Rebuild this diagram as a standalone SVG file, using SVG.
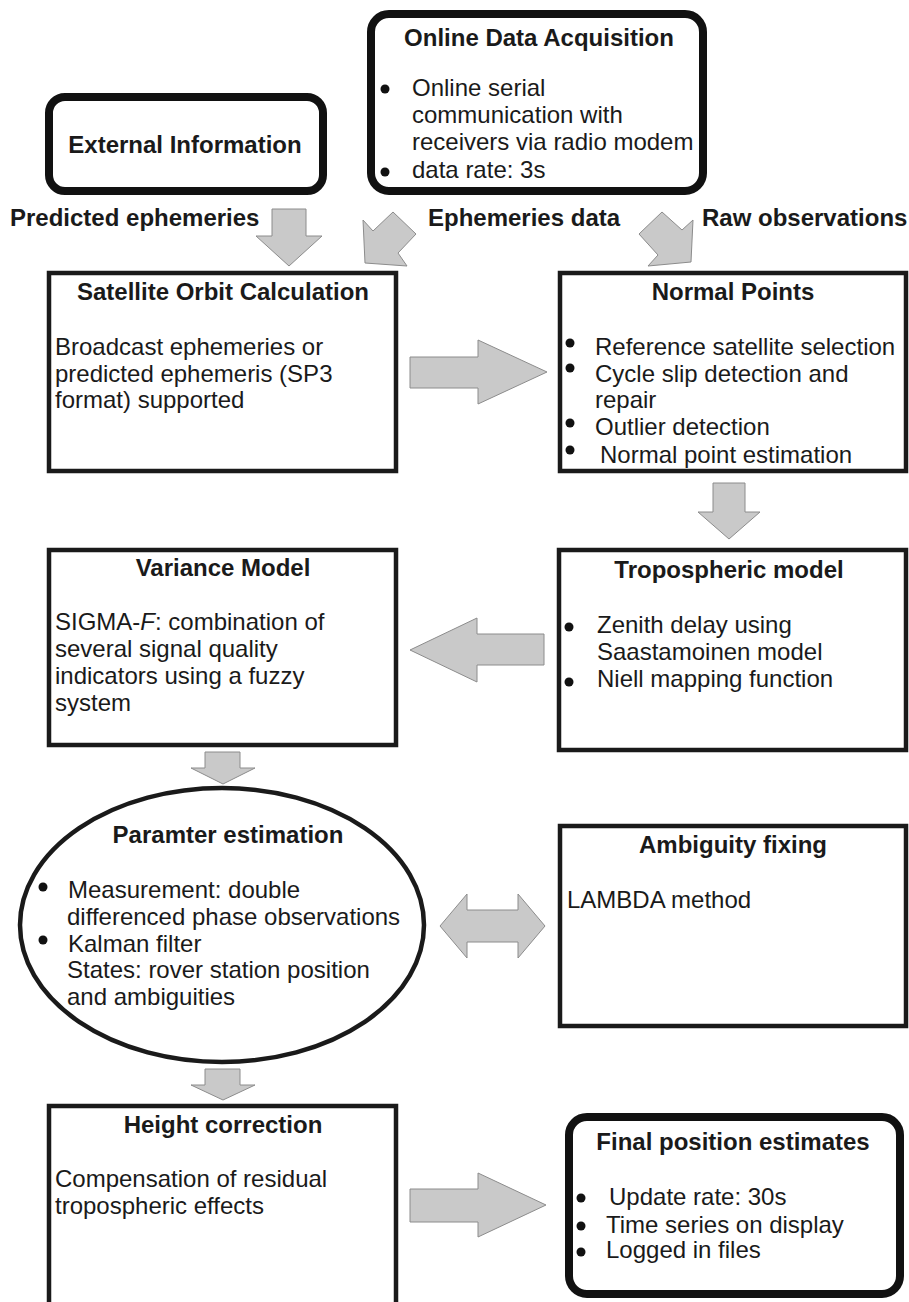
<svg xmlns="http://www.w3.org/2000/svg" width="909" height="1302" viewBox="0 0 909 1302">
<style>
text{font-family:"Liberation Sans",Arial,sans-serif;font-size:24px;fill:#1a1a1a}
.h{font-weight:bold;text-anchor:middle}
.lb{font-weight:bold}
.box{fill:#fff;stroke:#1a1a1a;stroke-width:4.5}
.rbox{fill:#fff;stroke:#111;stroke-width:8}
.arr{fill:#c9c9c9;stroke:#8c8c8c;stroke-width:1}
.dot{fill:#111}
</style>
<rect width="909" height="1302" fill="#fff"/>
<g id="connectors">
<polygon class="arr" points="272,209 306,209 306,236 322,236 289,266 256,236 272,236"/>
<polygon class="arr" points="393,212 416,234 398,253 407,266 365,263 363,220 373,231"/>
<polygon class="arr" points="662,212 682,230 693,220 691,262 648,266 658,255 639,234"/>
<polygon class="arr" points="410,357 478,357 478,340 547,372 478,404 478,388 410,388"/>
<polygon class="arr" points="713,483 745,483 745,512 760,512 729,539 698,512 713,512"/>
<polygon class="arr" points="544,634 477,634 477,618 410,650 477,682 477,665 544,665"/>
<polygon class="arr" points="205,752 240,752 240,768 255,768 223,784 191,768 205,768"/>
<polygon class="arr" points="440,926 467,894 467,910 518,910 518,894 545,926 518,958 518,942 467,942 467,958"/>
<polygon class="arr" points="205,1069 240,1069 240,1085 255,1085 223,1100 191,1085 205,1085"/>
<polygon class="arr" points="410,1189 478,1189 478,1173 546,1205 478,1237 478,1222 410,1222"/>
</g>
<g id="labels">
<text class="lb" x="10" y="226">Predicted ephemeries</text>
<text class="lb" x="428" y="226">Ephemeries data</text>
<text class="lb" x="702" y="226">Raw observations</text>
</g>
<g id="external">
<rect class="rbox" x="49" y="97" width="274" height="94" rx="16"/>
<text class="h" x="185" y="153">External Information</text>
</g>
<g id="online">
<rect class="rbox" x="371" y="14" width="332" height="177" rx="18"/>
<text class="h" x="539" y="46">Online Data Acquisition</text>
<circle class="dot" cx="385" cy="89" r="4.5"/>
<circle class="dot" cx="385" cy="172" r="4.5"/>
<text x="412" y="96">Online serial</text>
<text x="412" y="123">communication with</text>
<text x="412" y="150">receivers via radio modem</text>
<text x="412" y="178">data rate: 3s</text>
</g>
<g id="orbit">
<rect class="box" x="49" y="273" width="347" height="198"/>
<text class="h" x="223" y="300">Satellite Orbit Calculation</text>
<text x="55" y="355">Broadcast ephemeries or</text>
<text x="55" y="382">predicted ephemeris (SP3</text>
<text x="55" y="408">format) supported</text>
</g>
<g id="normal">
<rect class="box" x="560" y="273" width="346" height="198"/>
<text class="h" x="733" y="300">Normal Points</text>
<circle class="dot" cx="570" cy="343" r="4.5"/>
<circle class="dot" cx="570" cy="368" r="4.5"/>
<circle class="dot" cx="570" cy="423" r="4.5"/>
<circle class="dot" cx="570" cy="450" r="4.5"/>
<text x="595" y="355">Reference satellite selection</text>
<text x="595" y="382">Cycle slip detection and</text>
<text x="595" y="408">repair</text>
<text x="595" y="435">Outlier detection</text>
<text x="600" y="463">Normal point estimation</text>
</g>
<g id="tropo">
<rect class="box" x="559" y="550" width="347" height="200"/>
<text class="h" x="729" y="578">Tropospheric model</text>
<circle class="dot" cx="569" cy="627" r="4.5"/>
<circle class="dot" cx="569" cy="682" r="4.5"/>
<text x="597" y="633">Zenith delay using</text>
<text x="597" y="660">Saastamoinen model</text>
<text x="597" y="687">Niell mapping function</text>
</g>
<g id="variance">
<rect class="box" x="49" y="550" width="347" height="195"/>
<text class="h" x="223" y="576">Variance Model</text>
<text x="55" y="630">SIGMA-<tspan font-style="italic">F</tspan>: combination of</text>
<text x="55" y="657">several signal quality</text>
<text x="55" y="684">indicators using a fuzzy</text>
<text x="55" y="711">system</text>
</g>
<g id="param">
<ellipse class="box" cx="222" cy="925" rx="202" ry="137"/>
<text class="h" x="228" y="843">Paramter estimation</text>
<circle class="dot" cx="43" cy="887" r="4.5"/>
<circle class="dot" cx="43" cy="940" r="4.5"/>
<text x="68" y="898">Measurement: double</text>
<text x="67" y="925">differenced phase observations</text>
<text x="68" y="952">Kalman filter</text>
<text x="67" y="978">States: rover station position</text>
<text x="67" y="1005">and ambiguities</text>
</g>
<g id="ambiguity">
<rect class="box" x="560" y="826" width="346" height="200"/>
<text class="h" x="733" y="853">Ambiguity fixing</text>
<text x="567" y="908">LAMBDA method</text>
</g>
<g id="height">
<rect class="box" x="49" y="1106" width="347" height="220"/>
<text class="h" x="223" y="1133">Height correction</text>
<text x="55" y="1187">Compensation of residual</text>
<text x="55" y="1214">tropospheric effects</text>
</g>
<g id="final">
<rect class="rbox" x="569" y="1117" width="331" height="177" rx="18"/>
<text class="h" x="733" y="1150">Final position estimates</text>
<circle class="dot" cx="581" cy="1198" r="4.5"/>
<circle class="dot" cx="581" cy="1226" r="4.5"/>
<circle class="dot" cx="581" cy="1252" r="4.5"/>
<text x="609" y="1205">Update rate: 30s</text>
<text x="606" y="1233">Time series on display</text>
<text x="606" y="1258">Logged in files</text>
</g>
</svg>
